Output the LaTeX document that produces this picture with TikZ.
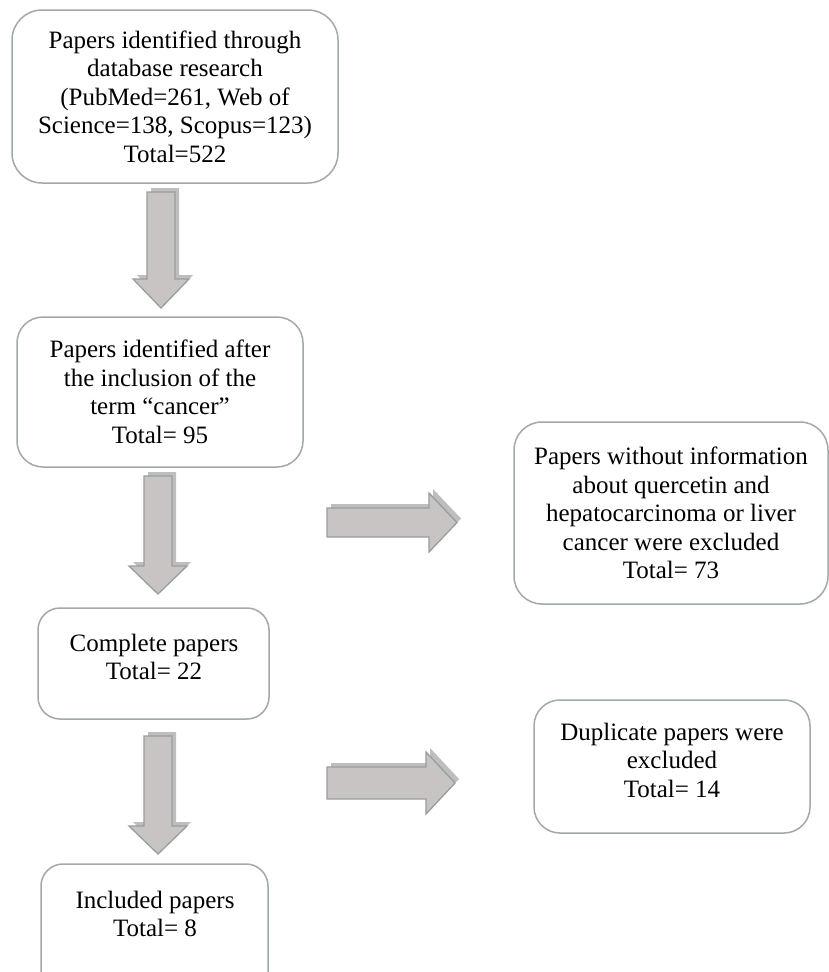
\documentclass[tikz,border=0pt]{standalone}
\usepackage{fontspec}
\setmainfont{Liberation Serif}
\definecolor{boxgray}{RGB}{163,168,168}
\definecolor{arrowfill}{RGB}{201,196,196}
\definecolor{arrowedge}{RGB}{152,158,158}
\definecolor{shadowgray}{RGB}{190,190,190}
\newcommand\blockarrow[1]{%
  \fill[arrowshadow, shift={(4,-4)}] #1;
  \filldraw[arrowmain] #1;}
\begin{document}
\begin{tikzpicture}[x=1pt,y=-1pt,
  box/.style={draw=boxgray, line width=1.5pt, rounded corners=26pt, inner sep=0pt},
  txt/.style={align=center, font=\fontsize{25}{28.5}\selectfont, inner sep=0pt, text=black},
  arrowmain/.style={fill=arrowfill, draw=arrowedge, line width=1.3pt, line join=miter},
  arrowshadow/.style={fill=shadowgray}]
\useasboundingbox (0,0) rectangle (829,972);
\fill[white] (0,0) rectangle (829,972);
\clip (0,0) rectangle (829,972);

% boxes
\node[box, rounded corners=30pt, minimum width=326pt, minimum height=173pt] (b1) at (175,96.5) {};
\node[txt] (t1) at (b1.center) {Papers identified through\\database research\\(PubMed=261, Web of\\Science=138, Scopus=123)\\Total=522};

\node[box, minimum width=286pt, minimum height=150pt] (b2) at (160,392) {};
\node[txt] (t2) at (b2.center) {Papers identified after\\the inclusion of the\\term “cancer”\\Total= 95};

\node[box, rounded corners=22pt, minimum width=231pt, minimum height=111pt] (b3) at (153.5,663.5) {};
\node[txt] (t3) at (154,657) {Complete papers\\Total= 22};

\node[box, rounded corners=22pt, minimum width=227pt, minimum height=130pt] (b4) at (154.5,929) {};
\node[txt] (t4) at (155,914) {Included papers\\Total= 8};

\node[box, rounded corners=28pt, minimum width=314pt, minimum height=182pt] (r1) at (671,513) {};
\node[txt] (tr1) at (r1.center) {Papers without information\\about quercetin and\\hepatocarcinoma or liver\\cancer were excluded\\Total= 73};

\node[box, rounded corners=26pt, minimum width=276pt, minimum height=133pt] (r2) at (672,766.5) {};
\node[txt] (tr2) at (672,760) {Duplicate papers were\\excluded\\Total= 14};

% block arrows
\blockarrow{(147,192) -- (175,192) -- (175,279) -- (189,279) -- (161,308) -- (133,279) -- (147,279) -- cycle}
\blockarrow{(144,476) -- (172,476) -- (172,566) -- (187,566) -- (158,594) -- (129,566) -- (144,566) -- cycle}
\blockarrow{(144,736) -- (172,736) -- (172,826) -- (187,826) -- (158,854) -- (129,826) -- (144,826) -- cycle}
\blockarrow{(327,508) -- (429,508) -- (429,493) -- (457,522.5) -- (429,552) -- (429,537) -- (327,537) -- cycle}
\blockarrow{(327,767) -- (426,767) -- (426,752) -- (455,783) -- (426,814) -- (426,799) -- (327,799) -- cycle}
\end{tikzpicture}
\end{document}
